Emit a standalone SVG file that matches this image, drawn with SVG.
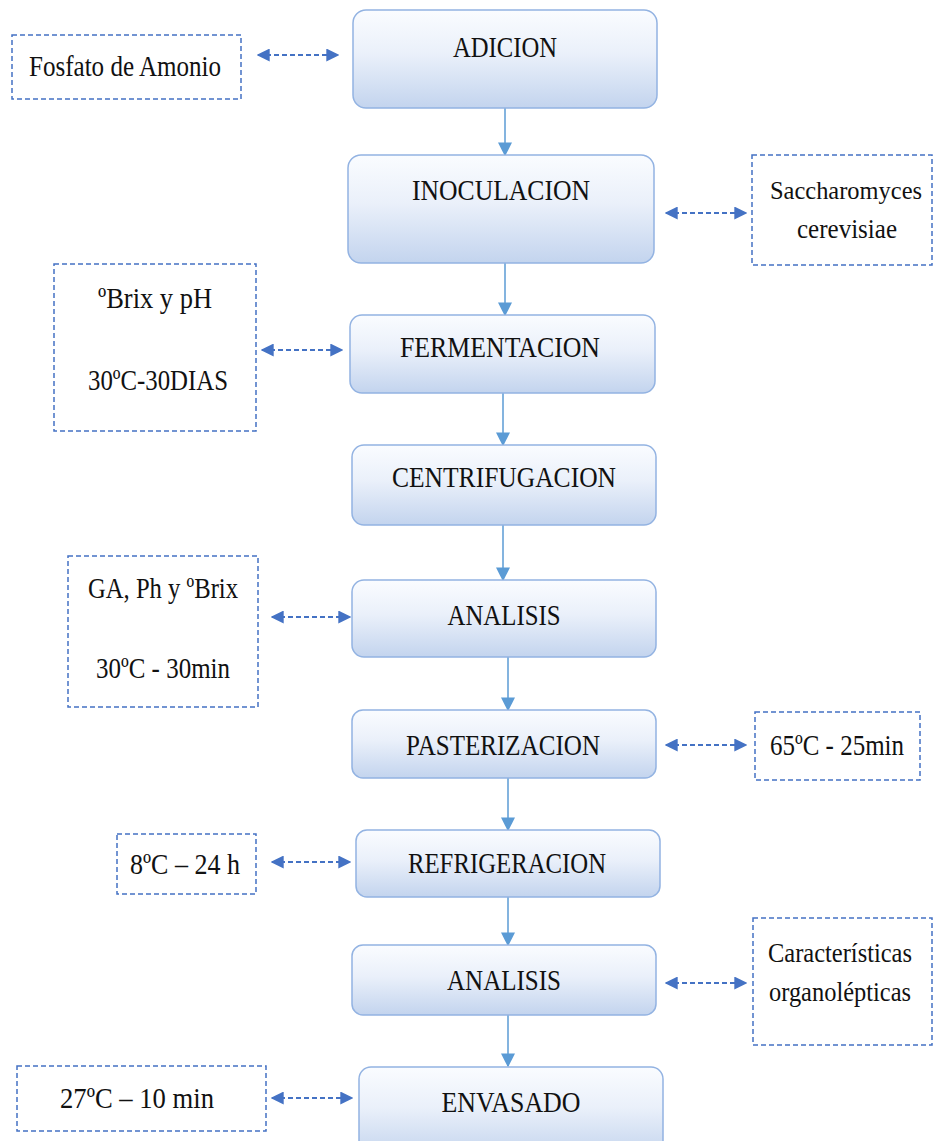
<svg xmlns="http://www.w3.org/2000/svg" width="934" height="1141" viewBox="0 0 934 1141">
<defs>
<linearGradient id="g" x1="0" y1="0" x2="0" y2="1">
<stop offset="0" stop-color="#fafcff"/>
<stop offset="0.45" stop-color="#eaf0fa"/>
<stop offset="1" stop-color="#c3d4ee"/>
</linearGradient>
<marker id="ah" viewBox="0 0 10 10" refX="9" refY="5" markerWidth="13" markerHeight="13" markerUnits="userSpaceOnUse" orient="auto-start-reverse">
<path d="M0,0 L10,5 L0,10 z" fill="#4472c4"/>
</marker>
<marker id="av" viewBox="0 0 10 10" refX="9" refY="5" markerWidth="14" markerHeight="14" markerUnits="userSpaceOnUse" orient="auto">
<path d="M0,0 L10,5 L0,10 z" fill="#5b9bd5"/>
</marker>
</defs>
<style>
.box{fill:url(#g);stroke:#93b3e2;stroke-width:1.5}
.dbox{fill:#fff;stroke:#4472c4;stroke-width:1.5;stroke-dasharray:5 3}
.t{font-family:"Liberation Serif","Times New Roman",serif;font-size:30px;fill:#111;text-anchor:middle}
.r{font-size:27px}
.s{font-size:25px}
.dl{stroke:#4472c4;stroke-width:1.8;stroke-dasharray:5 3;fill:none;marker-start:url(#ah);marker-end:url(#ah)}
.vl{stroke:#5b9bd5;stroke-width:1.5;fill:none;marker-end:url(#av)}
</style>
<rect width="934" height="1141" fill="#fff"/>
<g id="connectors">
<line class="vl" x1="505" y1="108" x2="505" y2="155"/>
<line class="vl" x1="505" y1="263" x2="505" y2="315"/>
<line class="vl" x1="503" y1="393" x2="503" y2="445"/>
<line class="vl" x1="503" y1="525" x2="503" y2="580"/>
<line class="vl" x1="508" y1="657" x2="508" y2="710"/>
<line class="vl" x1="508" y1="778" x2="508" y2="830"/>
<line class="vl" x1="508" y1="897" x2="508" y2="945"/>
<line class="vl" x1="508" y1="1015" x2="508" y2="1066"/>
<line class="dl" x1="258" y1="55" x2="338" y2="55"/>
<line class="dl" x1="666" y1="213" x2="746" y2="213"/>
<line class="dl" x1="262" y1="350" x2="342" y2="350"/>
<line class="dl" x1="272" y1="617" x2="350" y2="617"/>
<line class="dl" x1="666" y1="745" x2="746" y2="745"/>
<line class="dl" x1="272" y1="862" x2="350" y2="862"/>
<line class="dl" x1="666" y1="983" x2="746" y2="983"/>
<line class="dl" x1="272" y1="1098" x2="352" y2="1098"/>
</g>
<g id="n-adicion"><rect class="box" x="353" y="10" width="304" height="98" rx="13"/><text class="t" x="505" y="57" textLength="104" lengthAdjust="spacingAndGlyphs">ADICION</text></g>
<g id="n-inoculacion"><rect class="box" x="348" y="155" width="306" height="108" rx="13"/><text class="t" x="501" y="200" textLength="178" lengthAdjust="spacingAndGlyphs">INOCULACION</text></g>
<g id="n-fermentacion"><rect class="box" x="350" y="315" width="305" height="78" rx="12"/><text class="t" x="500" y="357" textLength="200" lengthAdjust="spacingAndGlyphs">FERMENTACION</text></g>
<g id="n-centrifugacion"><rect class="box" x="352" y="445" width="304" height="80" rx="12"/><text class="t" x="504" y="487" textLength="224" lengthAdjust="spacingAndGlyphs">CENTRIFUGACION</text></g>
<g id="n-analisis1"><rect class="box" x="352" y="580" width="304" height="77" rx="12"/><text class="t" x="504" y="625" textLength="113" lengthAdjust="spacingAndGlyphs">ANALISIS</text></g>
<g id="n-pasterizacion"><rect class="box" x="352" y="710" width="304" height="68" rx="11"/><text class="t" x="503" y="755" textLength="194" lengthAdjust="spacingAndGlyphs">PASTERIZACION</text></g>
<g id="n-refrigeracion"><rect class="box" x="356" y="830" width="304" height="67" rx="11"/><text class="t" x="507" y="873" textLength="198" lengthAdjust="spacingAndGlyphs">REFRIGERACION</text></g>
<g id="n-analisis2"><rect class="box" x="352" y="945" width="304" height="70" rx="11"/><text class="t" x="504" y="990" textLength="114" lengthAdjust="spacingAndGlyphs">ANALISIS</text></g>
<g id="n-envasado"><rect class="box" x="359" y="1067" width="304" height="90" rx="12"/><text class="t" x="511" y="1112" textLength="139" lengthAdjust="spacingAndGlyphs">ENVASADO</text></g>
<g id="d-fosfato"><rect class="dbox" x="12" y="35" width="229" height="64"/><text class="t" x="125" y="76" textLength="192" lengthAdjust="spacingAndGlyphs">Fosfato de Amonio</text></g>
<g id="d-saccharomyces"><rect class="dbox" x="752" y="155" width="180" height="110"/><text class="t s" x="846" y="199" textLength="152" lengthAdjust="spacingAndGlyphs">Saccharomyces</text><text class="t r" x="847" y="238" textLength="100" lengthAdjust="spacingAndGlyphs">cerevisiae</text></g>
<g id="d-brix"><rect class="dbox" x="54" y="264" width="202" height="167"/><text class="t" x="155" y="308" textLength="114" lengthAdjust="spacingAndGlyphs">ºBrix y pH</text><text class="t" x="158" y="390" textLength="140" lengthAdjust="spacingAndGlyphs">30ºC-30DIAS</text></g>
<g id="d-ga"><rect class="dbox" x="68" y="556" width="190" height="151"/><text class="t" x="163" y="598" textLength="150" lengthAdjust="spacingAndGlyphs">GA, Ph y ºBrix</text><text class="t" x="163" y="678" textLength="134" lengthAdjust="spacingAndGlyphs">30ºC - 30min</text></g>
<g id="d-65"><rect class="dbox" x="755" y="712" width="165" height="68"/><text class="t" x="837" y="755" textLength="134" lengthAdjust="spacingAndGlyphs">65ºC - 25min</text></g>
<g id="d-8"><rect class="dbox" x="117" y="834" width="139" height="60"/><text class="t" x="185" y="874" textLength="110" lengthAdjust="spacingAndGlyphs">8ºC – 24 h</text></g>
<g id="d-caract"><rect class="dbox" x="753" y="918" width="179" height="127"/><text class="t r" x="840" y="962" textLength="144" lengthAdjust="spacingAndGlyphs">Características</text><text class="t r" x="840" y="1001" textLength="142" lengthAdjust="spacingAndGlyphs">organolépticas</text></g>
<g id="d-27"><rect class="dbox" x="17" y="1066" width="249" height="65"/><text class="t" x="137" y="1108" textLength="154" lengthAdjust="spacingAndGlyphs">27ºC – 10 min</text></g>
</svg>
